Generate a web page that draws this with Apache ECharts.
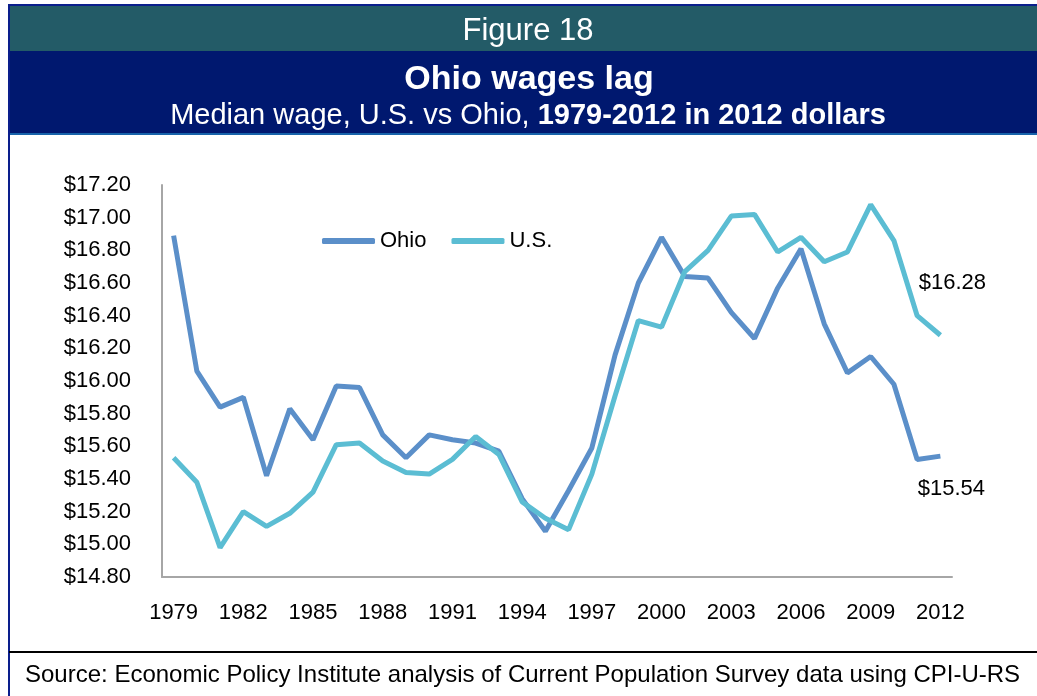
<!DOCTYPE html>
<html>
<head>
<meta charset="utf-8">
<script src="https://cdn.jsdelivr.net/npm/echarts@6/dist/echarts.min.js"></script>
<style>
  html, body { margin: 0; padding: 0; background: #fff; }
  #chart { width: 1037px; height: 696px; }
</style>
</head>
<body>
<div id="chart"></div>
<script>
// values (2012 dollars)
var years = [];
for (var y = 1979; y <= 2012; y++) years.push(String(y));

var ohio = [16.89, 16.06, 15.84, 15.90, 15.42, 15.83, 15.64, 15.97, 15.96, 15.67,
            15.53, 15.67, 15.64, 15.62, 15.57, 15.28, 15.08, 15.33, 15.59, 16.16,
            16.60, 16.88, 16.64, 16.63, 16.42, 16.26, 16.57, 16.81, 16.35, 16.05,
            16.15, 15.98, 15.52, 15.54];
var us = [15.53, 15.38, 14.98, 15.20, 15.11, 15.19, 15.32, 15.61, 15.62, 15.51,
          15.44, 15.43, 15.52, 15.66, 15.55, 15.26, 15.16, 15.09, 15.43, 15.91,
          16.37, 16.33, 16.67, 16.80, 17.01, 17.02, 16.79, 16.88, 16.73, 16.79,
          17.08, 16.86, 16.40, 16.28];

var font = "'Liberation Sans', Arial, sans-serif";
var navy = "#00186F";
var ohioColor = "#5B8FC9";
var usColor = "#5BBDD3";

function money(v) { return "$" + v.toFixed(2); }

function endMark(arr, offset) {
    var last = arr.length - 1;
    return {
        symbol: "rect",
        symbolSize: 1,
        itemStyle: { color: "rgba(0,0,0,0)" },
        label: {
            show: true, position: "inside", offset: offset,
            color: "#000", fontSize: 22, fontFamily: font,
            formatter: function (p) { return money(p.value); }
        },
        data: [{ coord: [years[last], arr[last]], value: arr[last] }]
    };
}

var chart = echarts.init(document.getElementById("chart"));
chart.setOption({
    animation: false,
    backgroundColor: "#fff",
    graphic: [
        { type: "rect", shape: { x: 10, y: 6, width: 1030, height: 46 }, style: { fill: "#235B67" } },
        { type: "rect", shape: { x: 10, y: 51, width: 1030, height: 82 }, style: { fill: navy } },
        { type: "rect", shape: { x: 10, y: 133, width: 1030, height: 2 }, style: { fill: "#1763AA" } },
        { type: "rect", shape: { x: 9, y: 5, width: 1040, height: 700 }, style: { fill: null, stroke: "#0A1E8C", lineWidth: 2 } },
        { type: "rect", shape: { x: 9, y: 651, width: 1030, height: 2 }, style: { fill: "#000" } },
        { type: "text", x: 528, y: 31, style: { text: "Figure 18", fill: "#fff", font: "31px " + font, align: "center", verticalAlign: "middle" } },
        { type: "text", x: 529, y: 80, style: { text: "Ohio wages lag", fill: "#fff", font: "bold 34px " + font, align: "center", verticalAlign: "middle" } },
        {
            type: "text", x: 528, y: 116,
            style: {
                text: "{a|Median wage, U.S. vs Ohio, }{b|1979-2012 in 2012 dollars}",
                align: "center", verticalAlign: "middle",
                rich: {
                    a: { fill: "#fff", fontSize: 29, fontFamily: font },
                    b: { fill: "#fff", fontSize: 29, fontWeight: "bold", fontFamily: font }
                }
            }
        },
        { type: "text", x: 25, y: 675, style: { text: "Source: Economic Policy Institute analysis of Current Population Survey data using CPI-U-RS", fill: "#000", font: "24px " + font, align: "left", verticalAlign: "middle" } }
    ],
    legend: {
        left: 322, top: 230, padding: 0,
        itemWidth: 53, itemHeight: 6, itemGap: 25,
        textStyle: { fontSize: 22, fontFamily: font, color: "#000" },
        data: [
            { name: "Ohio", icon: "roundRect", itemStyle: { color: ohioColor } },
            { name: "U.S.", icon: "roundRect", itemStyle: { color: usColor } }
        ]
    },
    grid: { left: 162, right: 85, top: 185, bottom: 119 },
    xAxis: {
        type: "category", data: years, boundaryGap: true,
        axisLine: { lineStyle: { color: "#A6A6A6", width: 2 } },
        axisTick: { show: false },
        axisLabel: { interval: 2, margin: 25, fontSize: 22, fontFamily: font, color: "#000" }
    },
    yAxis: {
        type: "value", min: 14.8, max: 17.2, interval: 0.2,
        axisLine: { show: true, lineStyle: { color: "#A6A6A6", width: 2 } },
        axisTick: { show: false },
        splitLine: { show: false },
        axisLabel: { margin: 31, fontSize: 22, fontFamily: font, color: "#000", formatter: money }
    },
    series: [
        {
            name: "Ohio", type: "line", data: ohio, symbol: "none",
            lineStyle: { width: 5, color: ohioColor }, itemStyle: { color: ohioColor },
            markPoint: endMark(ohio, [11, 33])
        },
        {
            name: "U.S.", type: "line", data: us, symbol: "none",
            lineStyle: { width: 5, color: usColor }, itemStyle: { color: usColor },
            markPoint: endMark(us, [12, -52])
        }
    ]
});
</script>
</body>
</html>
